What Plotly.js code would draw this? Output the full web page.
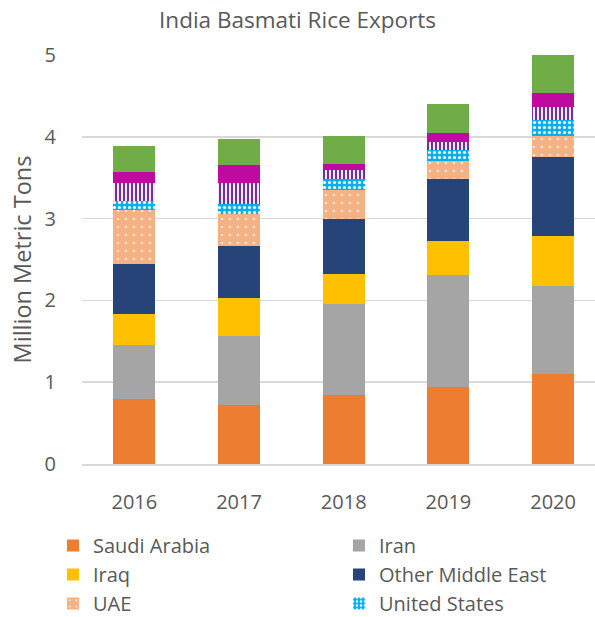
<!DOCTYPE html>
<html>
<head>
<meta charset="utf-8">
<script src="https://cdn.plot.ly/plotly-3.0.1.min.js"></script>
<style>html,body{margin:0;padding:0;background:#fff;}#chart{width:595px;height:617px;}</style>
</head>
<body>
<div id="chart"></div>
<script>
const years = ['2016', '2017', '2018', '2019', '2020'];
const saudiArabia = [0.79, 0.72, 0.84, 0.94, 1.10];
const iran = [0.66, 0.85, 1.11, 1.37, 1.08];
const iraq = [0.38, 0.46, 0.37, 0.42, 0.61];
const otherMiddleEast = [0.61, 0.64, 0.67, 0.76, 0.96];
const uae = [0.67, 0.39, 0.36, 0.21, 0.26];
const unitedStates = [0.11, 0.12, 0.13, 0.14, 0.19];
const kuwait = [0.21, 0.25, 0.11, 0.10, 0.16];
const europeanUnion = [0.14, 0.22, 0.08, 0.11, 0.17];
const restOfWorld = [0.32, 0.32, 0.34, 0.35, 0.47];
const yTicks = [0, 1, 2, 3, 4, 5];

const font = 'Open Sans, Noto Sans, sans-serif';
const grey = '#595959';

function bar(name, y, color, pattern, legendId, showlegend) {
  const marker = {color: color, line: {width: 0}};
  if (pattern) marker.pattern = pattern;
  const t = {type: 'bar', name: name, x: years, y: y, marker: marker,
             showlegend: showlegend !== false, hoverinfo: 'name+y'};
  if (legendId) t.legend = legendId;
  return t;
}

const data = [
  bar('Saudi Arabia', saudiArabia, '#ED7D31', null, 'legend'),
  bar('Iran', iran, '#A5A5A5', null, 'legend2'),
  bar('Iraq', iraq, '#FFC000', null, 'legend'),
  bar('Other Middle East', otherMiddleEast, '#264478', null, 'legend2'),
  bar('UAE', uae, '#F4B183', {shape: '.', bgcolor: '#F4B183', fgcolor: '#FFFFFF', size: 8, solidity: 0.06, fillmode: 'replace'}, 'legend'),
  bar('United States', unitedStates, '#00B0F0', {shape: '.', bgcolor: '#00B0F0', fgcolor: '#FFFFFF', size: 5, solidity: 0.3, fillmode: 'replace'}, 'legend2'),
  bar('Kuwait', kuwait, '#7030A0', {shape: '|', bgcolor: '#FFFFFF', fgcolor: '#7030A0', size: 4, solidity: 0.55, fillmode: 'replace'}, null, false),
  bar('European Union', europeanUnion, '#BE0A9F', null, null, false),
  bar('Rest of World', restOfWorld, '#70AD47', null, null, false)
];

const legendFont = {family: font, size: 20, color: grey};
const legendTop = 1 - 526 / 617;
const layout = {
  width: 595, height: 617,
  margin: {l: 82, r: 0, t: 55, b: 153},
  paper_bgcolor: '#FFFFFF', plot_bgcolor: '#FFFFFF',
  font: {family: font, color: grey, size: 20},
  barmode: 'stack',
  bargap: 0.6,
  title: {text: 'India Basmati Rice Exports', font: {family: font, size: 22.5, color: grey},
          x: 0.5, xanchor: 'center', y: 1 - 20/617, yanchor: 'middle'},
  xaxis: {type: 'category', range: [-0.5, 4.4], showgrid: false, zeroline: false,
          showline: true, linecolor: '#D9D9D9', linewidth: 1.5,
          ticks: 'outside', ticklen: 19, tickcolor: 'rgba(0,0,0,0)',
          tickfont: {family: font, size: 20, color: grey}},
  yaxis: {range: [0, 5], tickvals: yTicks, ticktext: yTicks.map(String),
          showgrid: true, gridcolor: '#D9D9D9', gridwidth: 1.5, zeroline: false,
          ticks: 'outside', ticklen: 21, tickcolor: 'rgba(0,0,0,0)',
          tickfont: {family: font, size: 20, color: grey},
          title: {text: 'Million Metric Tons', font: {family: font, size: 23.5, color: grey}, standoff: 6}},
  legend: {orientation: 'v', x: (53 - 82) / 513, xanchor: 'left', yref: 'container', y: legendTop, yanchor: 'top',
           traceorder: 'normal', font: legendFont},
  legend2: {orientation: 'v', x: (339 - 82) / 513, xanchor: 'left', yref: 'container', y: legendTop, yanchor: 'top',
           traceorder: 'normal', font: legendFont},
  showlegend: true
};

Plotly.newPlot('chart', data, layout, {displayModeBar: false, staticPlot: true});
</script>
</body>
</html>
